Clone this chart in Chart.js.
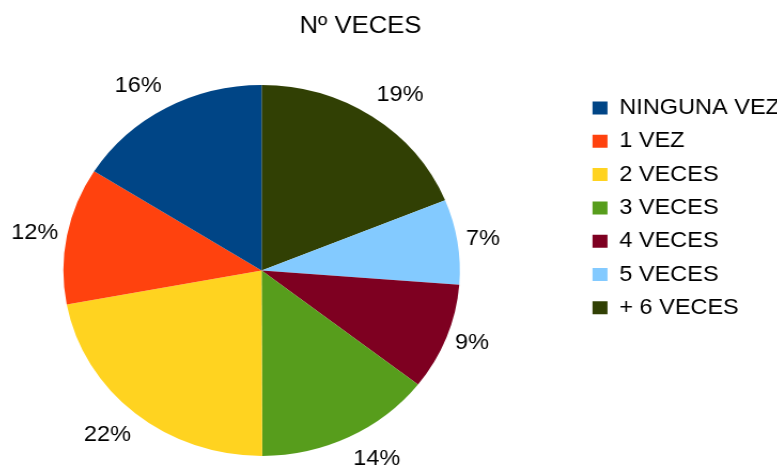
<!DOCTYPE html>
<html>
<head>
<meta charset="utf-8">
<script src="https://cdn.jsdelivr.net/npm/chart.js@4/dist/chart.umd.min.js"></script>
<style>
  html, body { margin: 0; padding: 0; background: #fff; overflow: hidden; }
  /* reference is stretched horizontally (pie is an ellipse), so draw narrower and stretch;
     canvas also starts a bit left of the page so the pie sits where it should */
  #wrap { width: 781.6px; height: 466px; transform: translateX(-57.2px) scaleX(1.0674); transform-origin: 0 0; }
</style>
</head>
<body>
<div id="wrap"><canvas id="vecesChart"></canvas></div>
<script>
// data (legend order), shares
const categories = ["NINGUNA VEZ", "1 VEZ", "2 VECES", "3 VECES", "4 VECES", "5 VECES", "+ 6 VECES"];
const shares = [16.0, 11.9, 22.1, 14.4, 9.3, 7.4, 18.8];
const colors = ["#004586", "#ff420e", "#ffd320", "#579d1c", "#7e0021", "#83caff", "#314004"];

Chart.defaults.font.family = '"Liberation Sans", Arial, sans-serif';
Chart.defaults.color = "#000";

// percent labels outside the slices
const pctLabels = {
    id: "pctLabels",
    afterDatasetsDraw(chart) {
        const ctx = chart.ctx;
        const meta = chart.getDatasetMeta(0);
        const data = chart.data.datasets[0].data;
        const total = data.reduce((a, b) => a + b, 0);
        ctx.save();
        ctx.font = '22px "Liberation Sans", Arial, sans-serif';
        ctx.fillStyle = "#000";
        ctx.textAlign = "center";
        ctx.textBaseline = "middle";
        meta.data.forEach((arc, i) => {
            const p = arc.getProps(["x", "y", "startAngle", "endAngle", "outerRadius"], true);
            const mid = (p.startAngle + p.endAngle) / 2;
            const dx = Math.cos(mid);
            const dy = Math.sin(mid);
            const text = Math.round((data[i] / total) * 100) + "%";
            const w = ctx.measureText(text).width;
            let px, py;
            if (Math.abs(dy) > 0.4) {
                px = p.x + p.outerRadius * dx + Math.sign(dx) * (4 + w / 2);
                py = p.y + p.outerRadius * dy + Math.sign(dy) * 22;
            } else {
                px = p.x + p.outerRadius * dx + Math.sign(dx) * (8 + w / 2);
                py = p.y + (p.outerRadius + 15) * dy;
            }
            ctx.fillText(text, px, py);
        });
        ctx.restore();
    },
};

// slices run clockwise from the top in reverse legend order
const ctx = document.getElementById("vecesChart").getContext("2d");
new Chart(ctx, {
    type: "pie",
    data: {
        labels: categories.slice().reverse(),
        datasets: [
            {
                data: shares.slice().reverse(),
                backgroundColor: colors.slice().reverse(),
                borderWidth: 0,
                radius: 185.5,
            },
        ],
    },
    options: {
        responsive: true,
        maintainAspectRatio: false,
        animation: false,
        layout: {
            padding: { left: 0, right: 0, top: 0, bottom: 10.7 },
        },
        plugins: {
            title: {
                display: true,
                text: "Nº VECES",
                font: { size: 24, weight: "normal" },
                color: "#000",
                padding: { top: 12, bottom: 44.9 },
            },
            legend: {
                position: "right",
                align: "start",
                fullSize: false,
                reverse: true,
                maxWidth: 185,
                labels: {
                    boxWidth: 14,
                    boxHeight: 13,
                    padding: 11.3,
                    color: "#000",
                    font: { size: 22 },
                },
            },
            tooltip: { enabled: false },
        },
    },
    plugins: [pctLabels],
});
</script>
</body>
</html>
